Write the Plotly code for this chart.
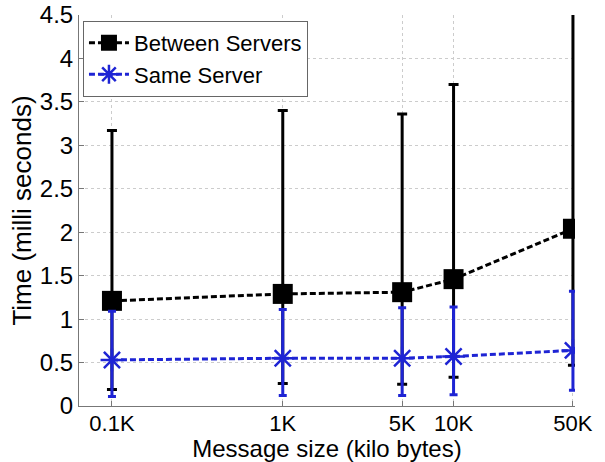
import plotly.graph_objects as go

sizes_kb = [0.1, 1, 5, 10, 50]
tick_labels = ["0.1K", "1K", "5K", "10K", "50K"]

between_mean = [1.21, 1.29, 1.31, 1.46, 2.04]
between_upper = [3.17, 3.40, 3.36, 3.70, 4.80]
between_lower = [0.19, 0.26, 0.25, 0.33, 0.47]

same_mean = [0.53, 0.55, 0.55, 0.57, 0.64]
same_upper = [1.09, 1.11, 1.13, 1.14, 1.32]
same_lower = [0.11, 0.12, 0.12, 0.13, 0.18]

BLUE = "#1e24d4"
FONT = "Liberation Sans, Arial, sans-serif"

fig = go.Figure()
fig.add_trace(go.Scatter(
    x=sizes_kb, y=between_mean, name="Between Servers", mode="lines+markers",
    line=dict(color="black", width=3, dash="6px,3px"),
    marker=dict(symbol="square", size=20, color="black"),
    error_y=dict(type="data", symmetric=False,
                 array=[u - m for u, m in zip(between_upper, between_mean)],
                 arrayminus=[m - l for m, l in zip(between_mean, between_lower)],
                 color="black", thickness=3, width=5),
))
fig.add_trace(go.Scatter(
    x=sizes_kb, y=same_mean, name="Same Server", mode="lines+markers",
    line=dict(color=BLUE, width=3, dash="6px,3px"),
    marker=dict(symbol="asterisk-open", size=19, color=BLUE, line=dict(color=BLUE, width=2.5)),
    error_y=dict(type="data", symmetric=False,
                 array=[u - m for u, m in zip(same_upper, same_mean)],
                 arrayminus=[m - l for m, l in zip(same_mean, same_lower)],
                 color=BLUE, thickness=3, width=4),
))

fig.update_layout(
    width=605, height=462,
    margin=dict(l=79, r=30, t=15, b=56, autoexpand=False),
    paper_bgcolor="white", plot_bgcolor="white",
    font=dict(family=FONT, color="black", size=23),
    showlegend=True,
    legend=dict(x=0.008, y=0.985, xanchor="left", yanchor="top",
                bgcolor="white", bordercolor="#666666", borderwidth=1,
                font=dict(size=22), tracegroupgap=0, itemwidth=40),
    xaxis=dict(type="log", range=[-1.193, 1.711], automargin=False,
               tickvals=sizes_kb, ticktext=tick_labels,
               showgrid=True, gridcolor="#cccccc", griddash="dot", gridwidth=1,
               showline=True, linecolor="#777777", linewidth=1,
               ticks="inside", ticklen=5, tickcolor="#777777",
               tickfont=dict(size=22), ticklabelstandoff=-2,
               title=dict(text="Message size (kilo bytes)", font=dict(size=24), standoff=0),
               zeroline=False),
    yaxis=dict(range=[0, 4.5], automargin=False,
               tickvals=[0, 0.5, 1, 1.5, 2, 2.5, 3, 3.5, 4, 4.5],
               ticktext=["0", "0.5", "1", "1.5", "2", "2.5", "3", "3.5", "4", "4.5"],
               showgrid=True, gridcolor="#cccccc", griddash="dot", gridwidth=1,
               showline=True, linecolor="#777777", linewidth=1,
               ticks="inside", ticklen=5, tickcolor="#777777",
               tickfont=dict(size=24),
               title=dict(text="Time (milli seconds)", font=dict(size=26), standoff=0),
               zeroline=False),
)

fig.write_html("out.html", config={"displayModeBar": False},
               post_script="document.body.style.margin='0';")
